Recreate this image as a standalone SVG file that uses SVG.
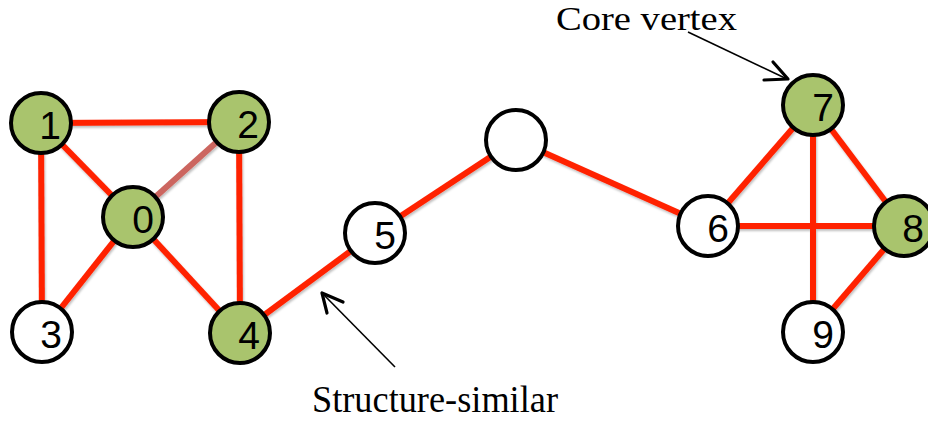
<svg xmlns="http://www.w3.org/2000/svg" width="928" height="422" viewBox="0 0 928 422">
  <style>
    .edge { stroke: #FF2200; stroke-width: 6; fill: none; }
    .edge.weak { stroke: #CC6660; }
    .node circle { stroke: #000; stroke-width: 4; fill: #fff; }
    .node.core circle { fill: #A9C46D; }
    .node text { font-family: "Liberation Sans", Arial, sans-serif; font-size: 39px; fill: #000; text-anchor: middle; }
    .label { font-family: "Liberation Serif", "Times New Roman", serif; fill: #000; }
    .pointer { stroke: #000; stroke-width: 1.6; fill: none; }
    .head { stroke: #000; stroke-width: 3.2; fill: none; stroke-linecap: round; stroke-linejoin: round; }
  </style>
  <defs>
    <filter id="shadow" x="-10%" y="-10%" width="120%" height="120%">
      <feDropShadow dx="1" dy="2" stdDeviation="1.2" flood-color="#000" flood-opacity="0.25"/>
    </filter>
  </defs>
  <rect width="928" height="422" fill="#fff"/>

  <!-- connectors -->
  <g id="edges" filter="url(#shadow)">
    <line class="edge" x1="41" y1="123" x2="239" y2="122"/>
    <line class="edge" x1="41" y1="123" x2="133" y2="217"/>
    <line class="edge" x1="41" y1="123" x2="42" y2="332"/>
    <line class="edge weak" x1="239" y1="122" x2="133" y2="217"/>
    <line class="edge" x1="239" y1="122" x2="240" y2="333"/>
    <line class="edge" x1="133" y1="217" x2="42" y2="332"/>
    <line class="edge" x1="133" y1="217" x2="240" y2="333"/>
    <line class="edge" x1="240" y1="333" x2="375" y2="233"/>
    <line class="edge" x1="375" y1="233" x2="516" y2="140"/>
    <line class="edge" x1="516" y1="140" x2="708" y2="226"/>
    <line class="edge" x1="708" y1="226" x2="813" y2="105"/>
    <line class="edge" x1="708" y1="226" x2="904" y2="226"/>
    <line class="edge" x1="813" y1="105" x2="904" y2="226"/>
    <line class="edge" x1="813" y1="105" x2="813" y2="332"/>
    <line class="edge" x1="904" y1="226" x2="813" y2="332"/>
  </g>

  <!-- vertices -->
  <g id="n0" class="node core"><circle cx="133" cy="217" r="30"/><text x="143" y="233">0</text></g>
  <g id="n1" class="node core"><circle cx="41" cy="123" r="30"/><text x="50" y="139">1</text></g>
  <g id="n2" class="node core"><circle cx="239" cy="122" r="30"/><text x="248" y="138">2</text></g>
  <g id="n3" class="node"><circle cx="42" cy="332" r="30"/><text x="51" y="348">3</text></g>
  <g id="n4" class="node core"><circle cx="240" cy="333" r="30"/><text x="249" y="349">4</text></g>
  <g id="n5" class="node"><circle cx="375" cy="233" r="30"/><text x="385" y="249">5</text></g>
  <g id="nx" class="node"><circle cx="516" cy="140" r="30"/></g>
  <g id="n6" class="node"><circle cx="708" cy="226" r="30"/><text x="718" y="242">6</text></g>
  <g id="n7" class="node core"><circle cx="813" cy="105" r="30"/><text x="823" y="121">7</text></g>
  <g id="n8" class="node core"><circle cx="904" cy="226" r="30"/><text x="913" y="242">8</text></g>
  <g id="n9" class="node"><circle cx="813" cy="332" r="30"/><text x="823" y="348">9</text></g>

  <!-- annotations -->
  <g id="core-label">
    <text class="label" x="556" y="30" font-size="33" textLength="181" lengthAdjust="spacingAndGlyphs">Core vertex</text>
    <line class="pointer" x1="688" y1="32" x2="787" y2="79"/>
    <polyline class="head" points="773,62 788,79 764,80"/>
  </g>
  <g id="similar-label">
    <text class="label" x="312" y="412" font-size="38" textLength="246" lengthAdjust="spacingAndGlyphs">Structure-similar</text>
    <line class="pointer" x1="395" y1="367" x2="323" y2="294"/>
    <polyline class="head" points="343,302 322,293 327,313"/>
  </g>
</svg>
